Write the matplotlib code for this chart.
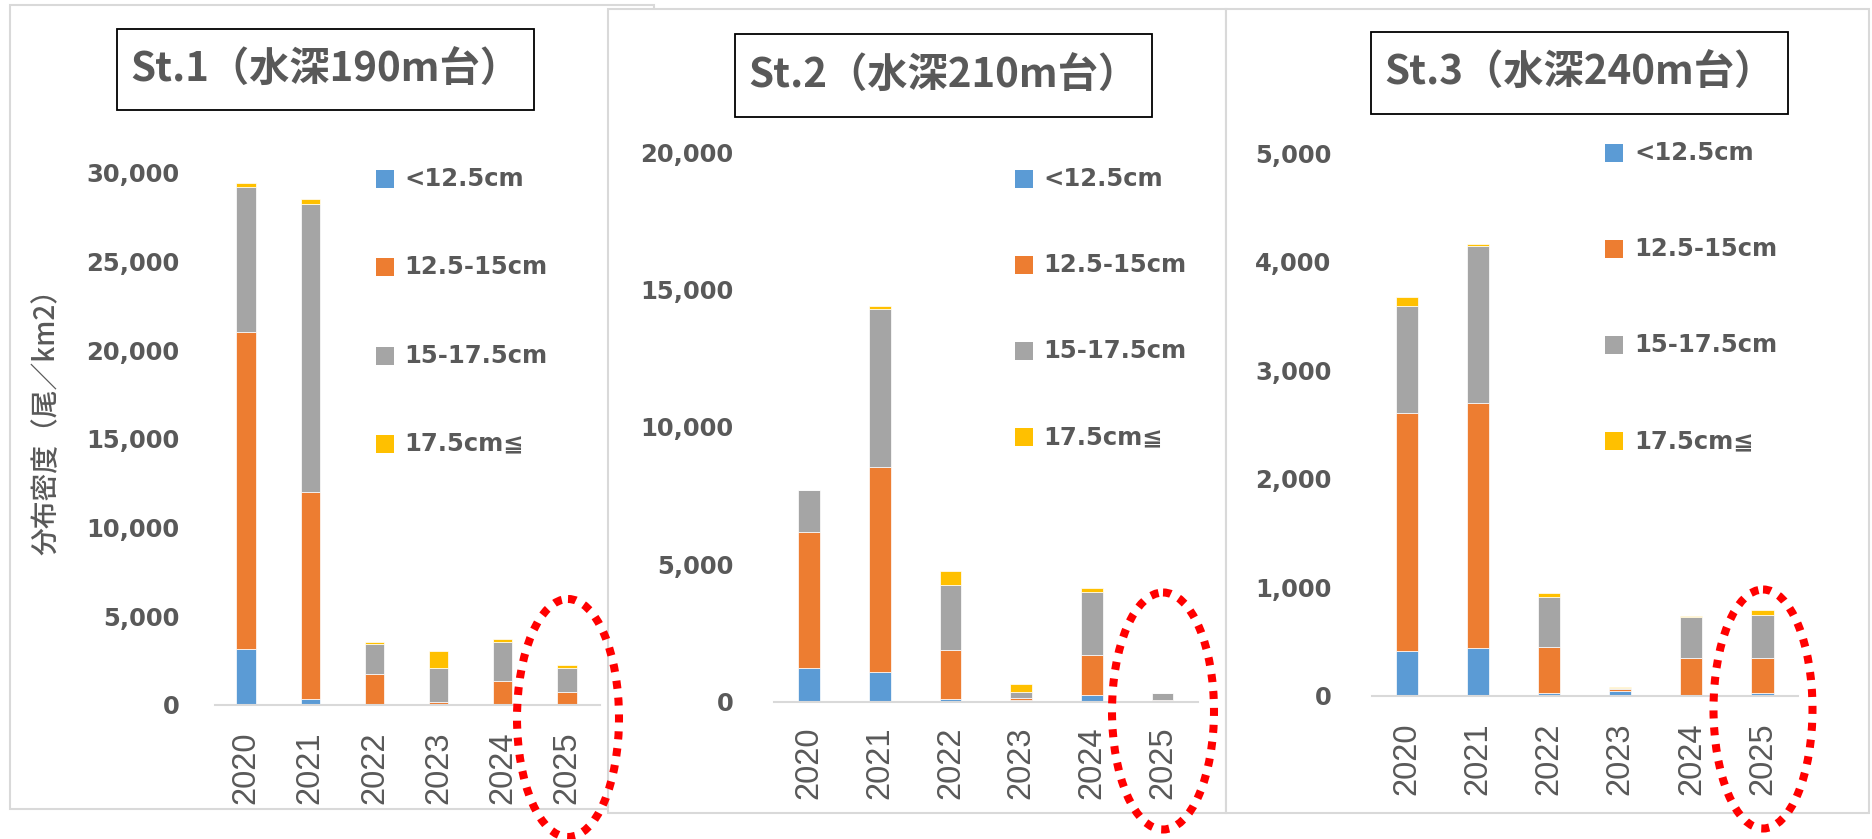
import matplotlib
matplotlib.use("Agg")
import matplotlib.pyplot as plt
from matplotlib.patches import Rectangle, Ellipse

# data (尾/km2)
years = ["2020", "2021", "2022", "2023", "2024", "2025"]
size_classes = ["<12.5cm", "12.5-15cm", "15-17.5cm", "17.5cm≦"]
colors = ["#5b9bd5", "#ed7d31", "#a5a5a5", "#ffc000"]

st1_lt125 = [3160, 340, 20, 10, 10, 10]
st1_125_15 = [17880, 11670, 1710, 140, 1360, 740]
st1_15_175 = [8175, 16250, 1730, 1935, 2200, 1335]
st1_ge175 = [225, 280, 75, 960, 150, 170]

st2_lt125 = [1215, 1090, 85, 70, 230, 15]
st2_125_15 = [4970, 7440, 1785, 55, 1460, 40]
st2_15_175 = [1510, 5760, 2390, 240, 2290, 250]
st2_ge175 = [20, 110, 490, 270, 145, 25]

st3_lt125 = [413, 435, 25, 45, 3, 22]
st3_125_15 = [2196, 2261, 425, 15, 340, 327]
st3_15_175 = [984, 1451, 461, 10, 384, 391]
st3_ge175 = [86, 15, 35, 12, 3, 49]

titles = ["St.1（水深190m台）", "St.2（水深210m台）", "St.3（水深240m台）"]
ylabel = "分布密度（尾／km2）"

W, H = 1872, 839
TXT = "#595959"

fig = plt.figure(figsize=(W / 100, H / 100), dpi=100)

# pixel overlays: one behind the charts, one in front
bg = fig.add_axes([0, 0, 1, 1], zorder=-1)
bg.set_xlim(0, W)
bg.set_ylim(H, 0)
bg.axis("off")
fg = fig.add_axes([0, 0, 1, 1], zorder=10)
fg.set_xlim(0, W)
fg.set_ylim(H, 0)
fg.axis("off")

# screenshot frames
for (x0, y0, x1, y1) in [(10, 5, 654, 809), (608, 9, 1226, 813), (1226, 9, 1869, 813)]:
    bg.add_patch(Rectangle((x0, y0), x1 - x0, y1 - y0, facecolor="white",
                           edgecolor="#d9d9d9", lw=1.5))

panels = [
    dict(series=[st1_lt125, st1_125_15, st1_15_175, st1_ge175], x0=214.6, x1=600, top=173, base=705,
         ymax=30000, step=5000, xlim=(-0.489, 5.514), bw=0.30, ypad=25.5, xpad=19,
         box=(116.6, 29, 533.7, 110), leg=(376, 404, 179, 88.3), ell=(568, 718, 102, 238)),
    dict(series=[st2_lt125, st2_125_15, st2_15_175, st2_ge175], x0=773.5, x1=1198, top=152, base=701.7,
         ymax=20000, step=5000, xlim=(-0.502, 5.502), bw=0.306, ypad=29, xpad=18,
         box=(734.7, 34, 1152, 117), leg=(1015, 1043, 179, 86), ell=(1163, 711, 102, 237)),
    dict(series=[st3_lt125, st3_125_15, st3_15_175, st3_ge175], x0=1371.8, x1=1798, top=153.3, base=695.5,
         ymax=5000, step=1000, xlim=(-0.495, 5.499), bw=0.31, ypad=29, xpad=19.5,
         box=(1371, 32, 1788.4, 113.7), leg=(1605, 1634, 153, 96), ell=(1763, 709, 99, 239)),
]

for i, p in enumerate(panels):
    ax = fig.add_axes([p["x0"] / W, 1 - p["base"] / H, (p["x1"] - p["x0"]) / W,
                       (p["base"] - p["top"]) / H])
    ax.set_facecolor("none")
    xs = range(len(years))
    bottom = [0] * len(years)
    for vals, c in zip(p["series"], colors):
        ax.bar(xs, vals, p["bw"], bottom=bottom, color=c, edgecolor="white", linewidth=0.5)
        bottom = [b + v for b, v in zip(bottom, vals)]
    ax.set_xlim(*p["xlim"])
    ax.set_ylim(0, p["ymax"])
    ticks = list(range(0, p["ymax"] + 1, p["step"]))
    ax.set_yticks(ticks)
    ax.set_yticklabels([f"{t:,}" for t in ticks], fontsize=17.5, fontweight="bold",
                       color=TXT, family="DejaVu Sans")
    ax.set_xticks(list(xs))
    ax.set_xticklabels(years, rotation=90, fontsize=23.5, color=TXT, family="Liberation Sans")
    ax.tick_params(axis="y", length=0, pad=p["ypad"])
    ax.tick_params(axis="x", length=0, pad=p["xpad"])
    for s in ["left", "right", "top"]:
        ax.spines[s].set_visible(False)
    ax.spines["bottom"].set_color("#d9d9d9")
    ax.spines["bottom"].set_linewidth(1.5)

    # title box
    bx0, by0, bx1, by1 = p["box"]
    fg.add_patch(Rectangle((bx0, by0), bx1 - bx0, by1 - by0, facecolor="white",
                           edgecolor="black", lw=1.3))
    fg.text((bx0 + bx1) / 2, (by0 + by1) / 2 + 1, titles[i], ha="center", va="center",
            fontsize=29, fontweight="bold", color=TXT, family=["Noto Sans CJK JP", "DejaVu Sans"])

    # legend
    mx, tx, ly, pitch = p["leg"]
    for k, (lab, c) in enumerate(zip(size_classes, colors)):
        yy = ly + k * pitch
        fg.add_patch(Rectangle((mx, yy - 9), 18, 18, facecolor=c, edgecolor="none"))
        fg.text(tx, yy, lab, ha="left", va="center", fontsize=17.5, fontweight="bold",
                color=TXT, family=["DejaVu Sans", "Noto Sans CJK JP"])

    # red dotted ring around 2025
    ex, ey, ew, eh = p["ell"]
    fg.add_patch(Ellipse((ex, ey), ew, eh, fill=False, edgecolor="#ff0000", lw=5.8,
                         linestyle=(0, (1, 1.1))))

fg.text(46, 415, ylabel, rotation=90, ha="center", va="center", fontsize=20, color=TXT,
        fontweight="medium", family=["Noto Sans CJK JP", "DejaVu Sans"])

fig.savefig("out.png", dpi=100)
